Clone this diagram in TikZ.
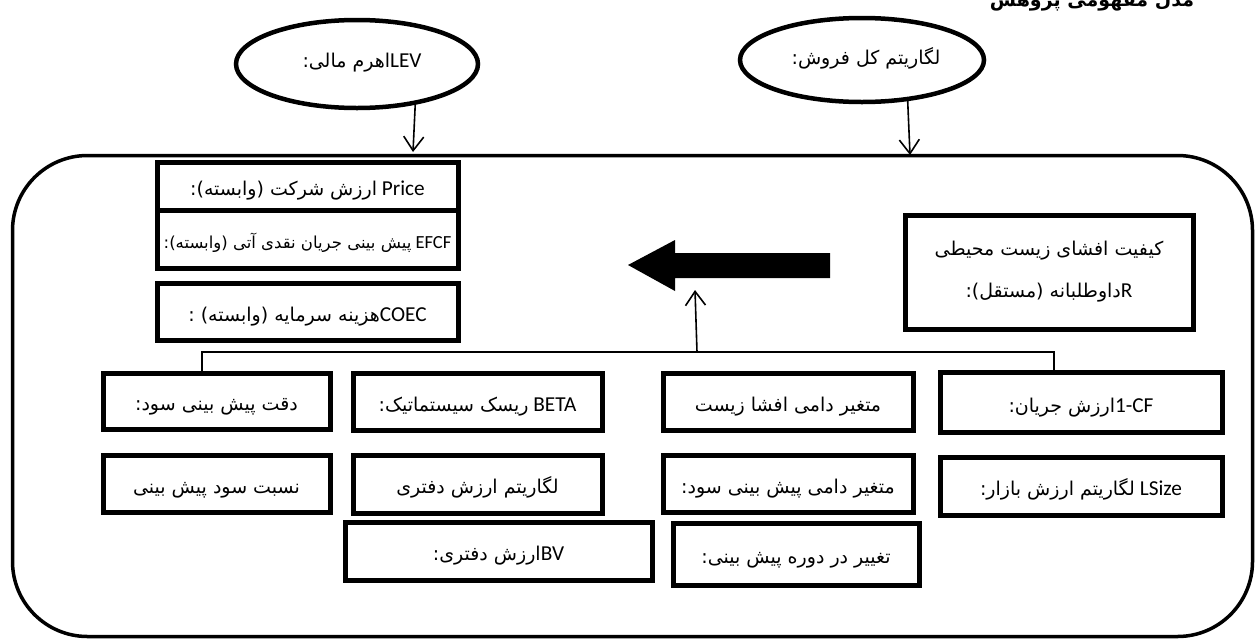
\documentclass[tikz,border=0pt]{standalone}
\usepackage{fontspec}
\setmainfont{Carlito}[Scale=1.12]
\newfontfamily\fa[Script=Arabic]{DejaVu Sans}
\TeXXeTstate=1
\usetikzlibrary{shapes.geometric,arrows.meta}
\newcommand{\RL}[1]{{\fa\beginR #1\endR}}
\newcommand{\LRmix}[2]{{\beginR\beginL #1\endL{\fa #2}\endR}}
\newcommand{\LRsp}[2]{{\beginR\beginL #1\endL\ {\fa #2}\endR}}
\tikzset{
  boxbase/.style={draw, line width=5pt, inner sep=0pt, font=\fontsize{19}{22}\selectfont},
  box/.style={boxbase, text height=22pt, text depth=3pt},
  oval/.style={draw, ellipse, line width=4.5pt, inner sep=0pt},
  frame/.style={draw, line width=3.5pt, rounded corners=75pt, inner sep=0pt},
  arr/.style={line width=1.6pt, -{Straight Barb[length=14pt,width=20pt,line width=1.6pt]}},
  bus/.style={line width=1.6pt},
  lbl/.style={font=\fontsize{19}{22}\selectfont}
}
\begin{document}
\begin{tikzpicture}[x=1pt,y=-1pt]
\useasboundingbox (0,0) rectangle (1257,643);
% title (cut at top edge, as in the reference)
\node[anchor=base, font=\fa\bfseries\fontsize{19}{22}\selectfont] (title) at (1092,6) {\beginR مدل مفهومی پژوهش\endR};
% ellipses
\node[oval, minimum width=242pt, minimum height=88pt] (le) at (357,64) {};
\node[lbl] (letxt) at (362,63) {\LRmix{LEV}{اهرم مالی:}};
\node[oval, minimum width=244pt, minimum height=84pt] (re) at (862,60) {};
\node[lbl] (retxt) at (866,58) {\RL{لگاریتم کل فروش:}};
% frame
\node[frame, minimum width=1240pt, minimum height=481pt] (frame) at (632.5,396) {};
\coordinate (la) at (413,152);
\coordinate (ra) at (910,155);
\draw[arr] (le.-35) -- (la);
\draw[arr] (re.-42) -- (ra);
% left stack
\node[box, minimum width=301pt, minimum height=48pt] (price) at (307.5,186) {\LRsp{Price}{ارزش شرکت (وابسته):}};
\node[box, minimum width=301pt, minimum height=58pt, font=\fontsize{16.5}{20}\selectfont] (efcf) at (307.5,239) {\LRsp{EFCF}{پیش بینی جریان نقدی آتی (وابسته):}};
\node[box, minimum width=301pt, minimum height=57pt] (coec) at (307.5,311.5) {\LRmix{COEC}{هزینه سرمایه (وابسته) :}};
% independent variable
\node[boxbase, minimum width=288pt, minimum height=114pt, align=center] (kif) at (1049,272)
  {\RL{کیفیت افشای زیست محیطی}\\[20pt]\LRmix{R}{داوطلبانه (مستقل):}};
% big arrow
\fill (830,253) -- (675,253) -- (675,240) -- (628,265) -- (675,291) -- (675,278) -- (830,278) -- cycle;
% row 1
\node[box, minimum width=227pt, minimum height=56pt] (b11) at (216.5,401) {\RL{دقت پیش بینی سود:}};
\node[box, minimum width=249pt, minimum height=57pt] (b12) at (477.5,401.5) {\LRsp{BETA}{ریسک سیستماتیک:}};
\node[box, minimum width=250pt, minimum height=57pt] (b13) at (788,401.5) {\RL{متغیر دامی افشا زیست}};
\node[box, minimum width=282pt, minimum height=60pt] (b14) at (1081,402.5) {\LRmix{1-CF}{ارزش جریان:}};
% row 2
\node[box, minimum width=227pt, minimum height=57pt] (b21) at (216.5,483.5) {\RL{نسبت سود پیش بینی}};
\node[box, minimum width=249pt, minimum height=58pt] (b22) at (477.5,484) {\RL{لگاریتم ارزش دفتری}};
\node[box, minimum width=250pt, minimum height=57pt] (b23) at (788,483.5) {\RL{متغیر دامی پیش بینی سود:}};
\node[box, minimum width=282pt, minimum height=58pt] (b24) at (1081,486) {\LRsp{LSize}{لگاریتم ارزش بازار:}};
% row 3
\node[box, minimum width=307pt, minimum height=58pt] (bv) at (498.5,551) {\LRmix{BV}{ارزش دفتری:}};
\node[box, minimum width=246pt, minimum height=62pt] (tg) at (796,554) {\RL{تغییر در دوره پیش بینی:}};
% bus
\coordinate (busL) at (202,352);
\coordinate (busR) at (1054,352);
\coordinate (busM) at (697,352);
\coordinate (upTip) at (695,290);
\draw[bus] (b11.north -| busL) -- (busL) -- (busR) -- (b14.north -| busR);
\draw[arr] (busM) -- (upTip);
\end{tikzpicture}
\end{document}
